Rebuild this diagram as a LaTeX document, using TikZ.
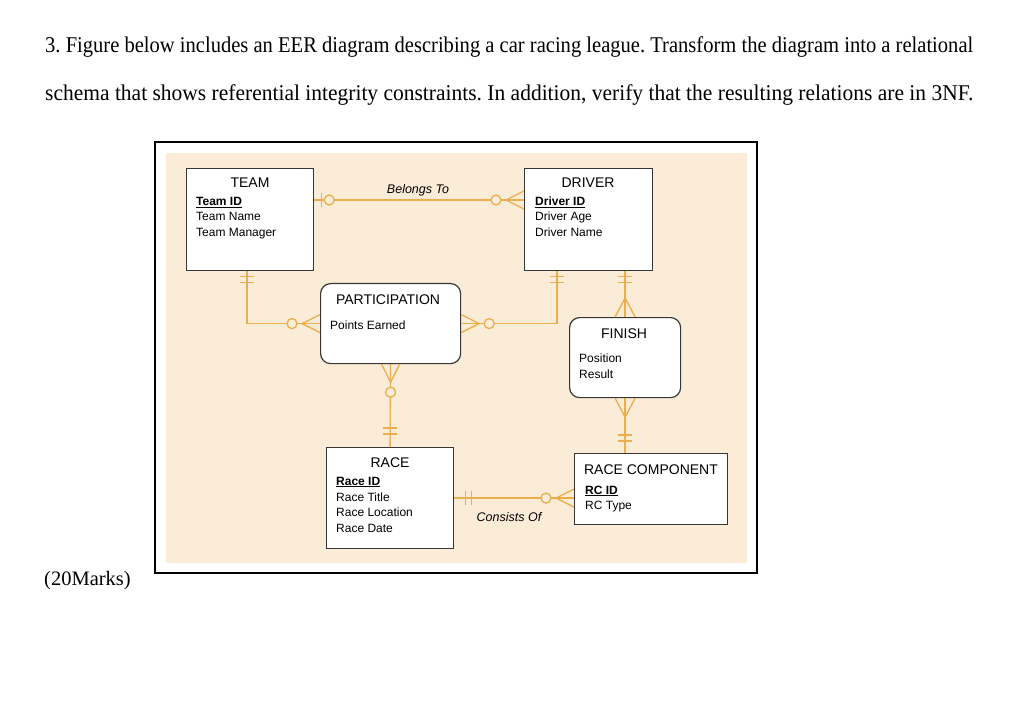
\documentclass[tikz,border=0pt]{standalone}
\usepackage{fontspec}
\usepackage{graphicx}
\setmainfont{Liberation Serif}
\newfontfamily\diag{Liberation Sans}
\usetikzlibrary{calc}
\frenchspacing
\definecolor{beige}{RGB}{250,236,214}
\definecolor{connc}{RGB}{234,174,76}
\definecolor{boxline}{RGB}{55,55,55}
\tikzset{
  entity/.style={draw=boxline, line width=1.2pt, fill=white, rectangle, anchor=north west, inner sep=0pt},
  assoc/.style={entity, rounded corners=10pt},
  rel/.style={draw=connc, line width=1.3pt},
  ttl/.style={font=\diag\fontsize{14}{16}\selectfont, anchor=base, inner sep=0pt},
  attr/.style={font=\diag\fontsize{12}{14}\selectfont, anchor=base west, inner sep=0pt},
  keyattr/.style={attr, font=\diag\bfseries\fontsize{12}{14}\selectfont},
  lbl/.style={font=\diag\itshape\fontsize{12.5}{14}\selectfont, anchor=base, inner sep=0pt},
  qtext/.style={anchor=base west, inner sep=0pt},
  pics/bars/.style={code={
      \draw[rel] (-#1,-7) -- (-#1,7);
      \draw[rel] (-#1-6,-7) -- (-#1-6,7);
  }},
  pics/oneopt/.style={code={
      \draw[rel] (-7,-7) -- (-7,7);
      \draw[rel, fill=beige] (-15,0) circle (5);
  }},
  pics/manyopt/.style={code={
      \draw[rel] (0,-9) -- (-18,0) -- (0,9);
      \draw[rel, fill=beige] (-28,0) circle (5);
  }},
  pics/many/.style={code={
      \draw[rel] (0,-10) -- (-19,0) -- (0,10);
  }},
}
\begin{document}
\begin{tikzpicture}[x=1pt,y=-1pt]
\useasboundingbox (0,0) rectangle (1024,708);
\fill[white] (0,0) rectangle (1024,708);

% question text
\node[qtext] (q1) at (45,53) {\resizebox{928pt}{\height}{\fontsize{22.5}{26}\selectfont 3. Figure below includes an EER diagram describing a car racing league. Transform the diagram into a relational}};
\node[qtext] (q2) at (45,101) {\resizebox{928pt}{\height}{\fontsize{22.5}{26}\selectfont schema that shows referential integrity constraints. In addition, verify that the resulting relations are in 3NF.}};
\node[qtext] (marks) at (44,585) {\fontsize{20.5}{24}\selectfont (20Marks)};

% frame and background
\draw[black, line width=1.8pt] (155,142) rectangle (757,573);
\fill[beige] (166,153) rectangle (747,563);

% entity boxes
\node[entity, minimum width=127pt, minimum height=102pt] (team) at (186,168) {};
\node[entity, minimum width=128pt, minimum height=102pt] (driver) at (524,168) {};
\node[assoc, minimum width=140pt, minimum height=80pt] (part) at (320,283) {};
\node[assoc, minimum width=111pt, minimum height=80pt] (finish) at (569,317) {};
\node[entity, minimum width=127pt, minimum height=101pt] (race) at (326,447) {};
\node[entity, minimum width=153pt, minimum height=71pt] (rc) at (574,453) {};

% texts
\node[ttl] (teamT) at (250,188) {TEAM};
\node[keyattr] (teamA1) at (196,206) {\underline{Team ID}};
\node[attr] (teamA2) at (196,221) {Team Name};
\node[attr] (teamA3) at (196,237) {Team Manager};

\node[ttl] (driverT) at (588,188) {DRIVER};
\node[keyattr] (driverA1) at (535,206) {\underline{Driver ID}};
\node[attr] (driverA2) at (535,221) {Driver Age};
\node[attr] (driverA3) at (535,237) {Driver Name};

\node[ttl] (partT) at (388,304) {PARTICIPATION};
\node[attr] (partA1) at (330,329) {Points Earned};

\node[ttl] (finishT) at (624,338) {FINISH};
\node[attr] (finishA1) at (579,362) {Position};
\node[attr] (finishA2) at (579,378) {Result};

\node[ttl] (raceT) at (390,467) {RACE};
\node[keyattr] (raceA1) at (336,485) {\underline{Race ID}};
\node[attr] (raceA2) at (336,501) {Race Title};
\node[attr] (raceA3) at (336,516) {Race Location};
\node[attr] (raceA4) at (336,532) {Race Date};

\node[ttl] (rcT) at (651,474) {RACE COMPONENT};
\node[keyattr] (rcA1) at (585,494) {\underline{RC ID}};
\node[attr] (rcA2) at (585,509) {RC Type};

\node[lbl] (belongs) at (418,194) {Belongs To};
\node[lbl] (consists) at (509,521) {Consists Of};

% connectors
\coordinate (bt1) at ($(team.north east)+(0,32)$);
\coordinate (bt2) at ($(driver.north west)+(0,32)$);
\coordinate (tb) at ($(team.south west)+(61,0)$);
\coordinate (db1) at ($(driver.south west)+(33,0)$);
\coordinate (db2) at (finish.north |- driver.south);
\coordinate (rct) at (finish.south |- rc.north);
\coordinate (rcl) at (race.east -| rc.west);

\draw[rel] (bt1) -- (bt2);
\draw[rel] (tb) |- (part.west);
\draw[rel] (part.east) -| (db1);
\draw[rel] (part.south) -- (race.north);
\draw[rel] (db2) -- (finish.north);
\draw[rel] (finish.south) -- (rct);
\draw[rel] (race.east) -- (rcl);

% end symbols
\pic[rotate=180] at (bt1) {oneopt};
\pic at (bt2) {manyopt};
\pic[rotate=90] at (tb) {bars=5};
\pic at (part.west) {manyopt};
\pic[rotate=180] at (part.east) {manyopt};
\pic[rotate=90] at (db1) {bars=5};
\pic[rotate=90] at (part.south) {manyopt};
\pic[rotate=-90] at (race.north) {bars=13};
\pic[rotate=90] at (db2) {bars=5};
\pic[rotate=-90] at (finish.north) {many};
\pic[rotate=90] at (finish.south) {many};
\pic[rotate=-90] at (rct) {bars=12};
\pic[rotate=180] at (race.east) {bars=11};
\pic at (rcl) {manyopt};
\end{tikzpicture}
\end{document}
